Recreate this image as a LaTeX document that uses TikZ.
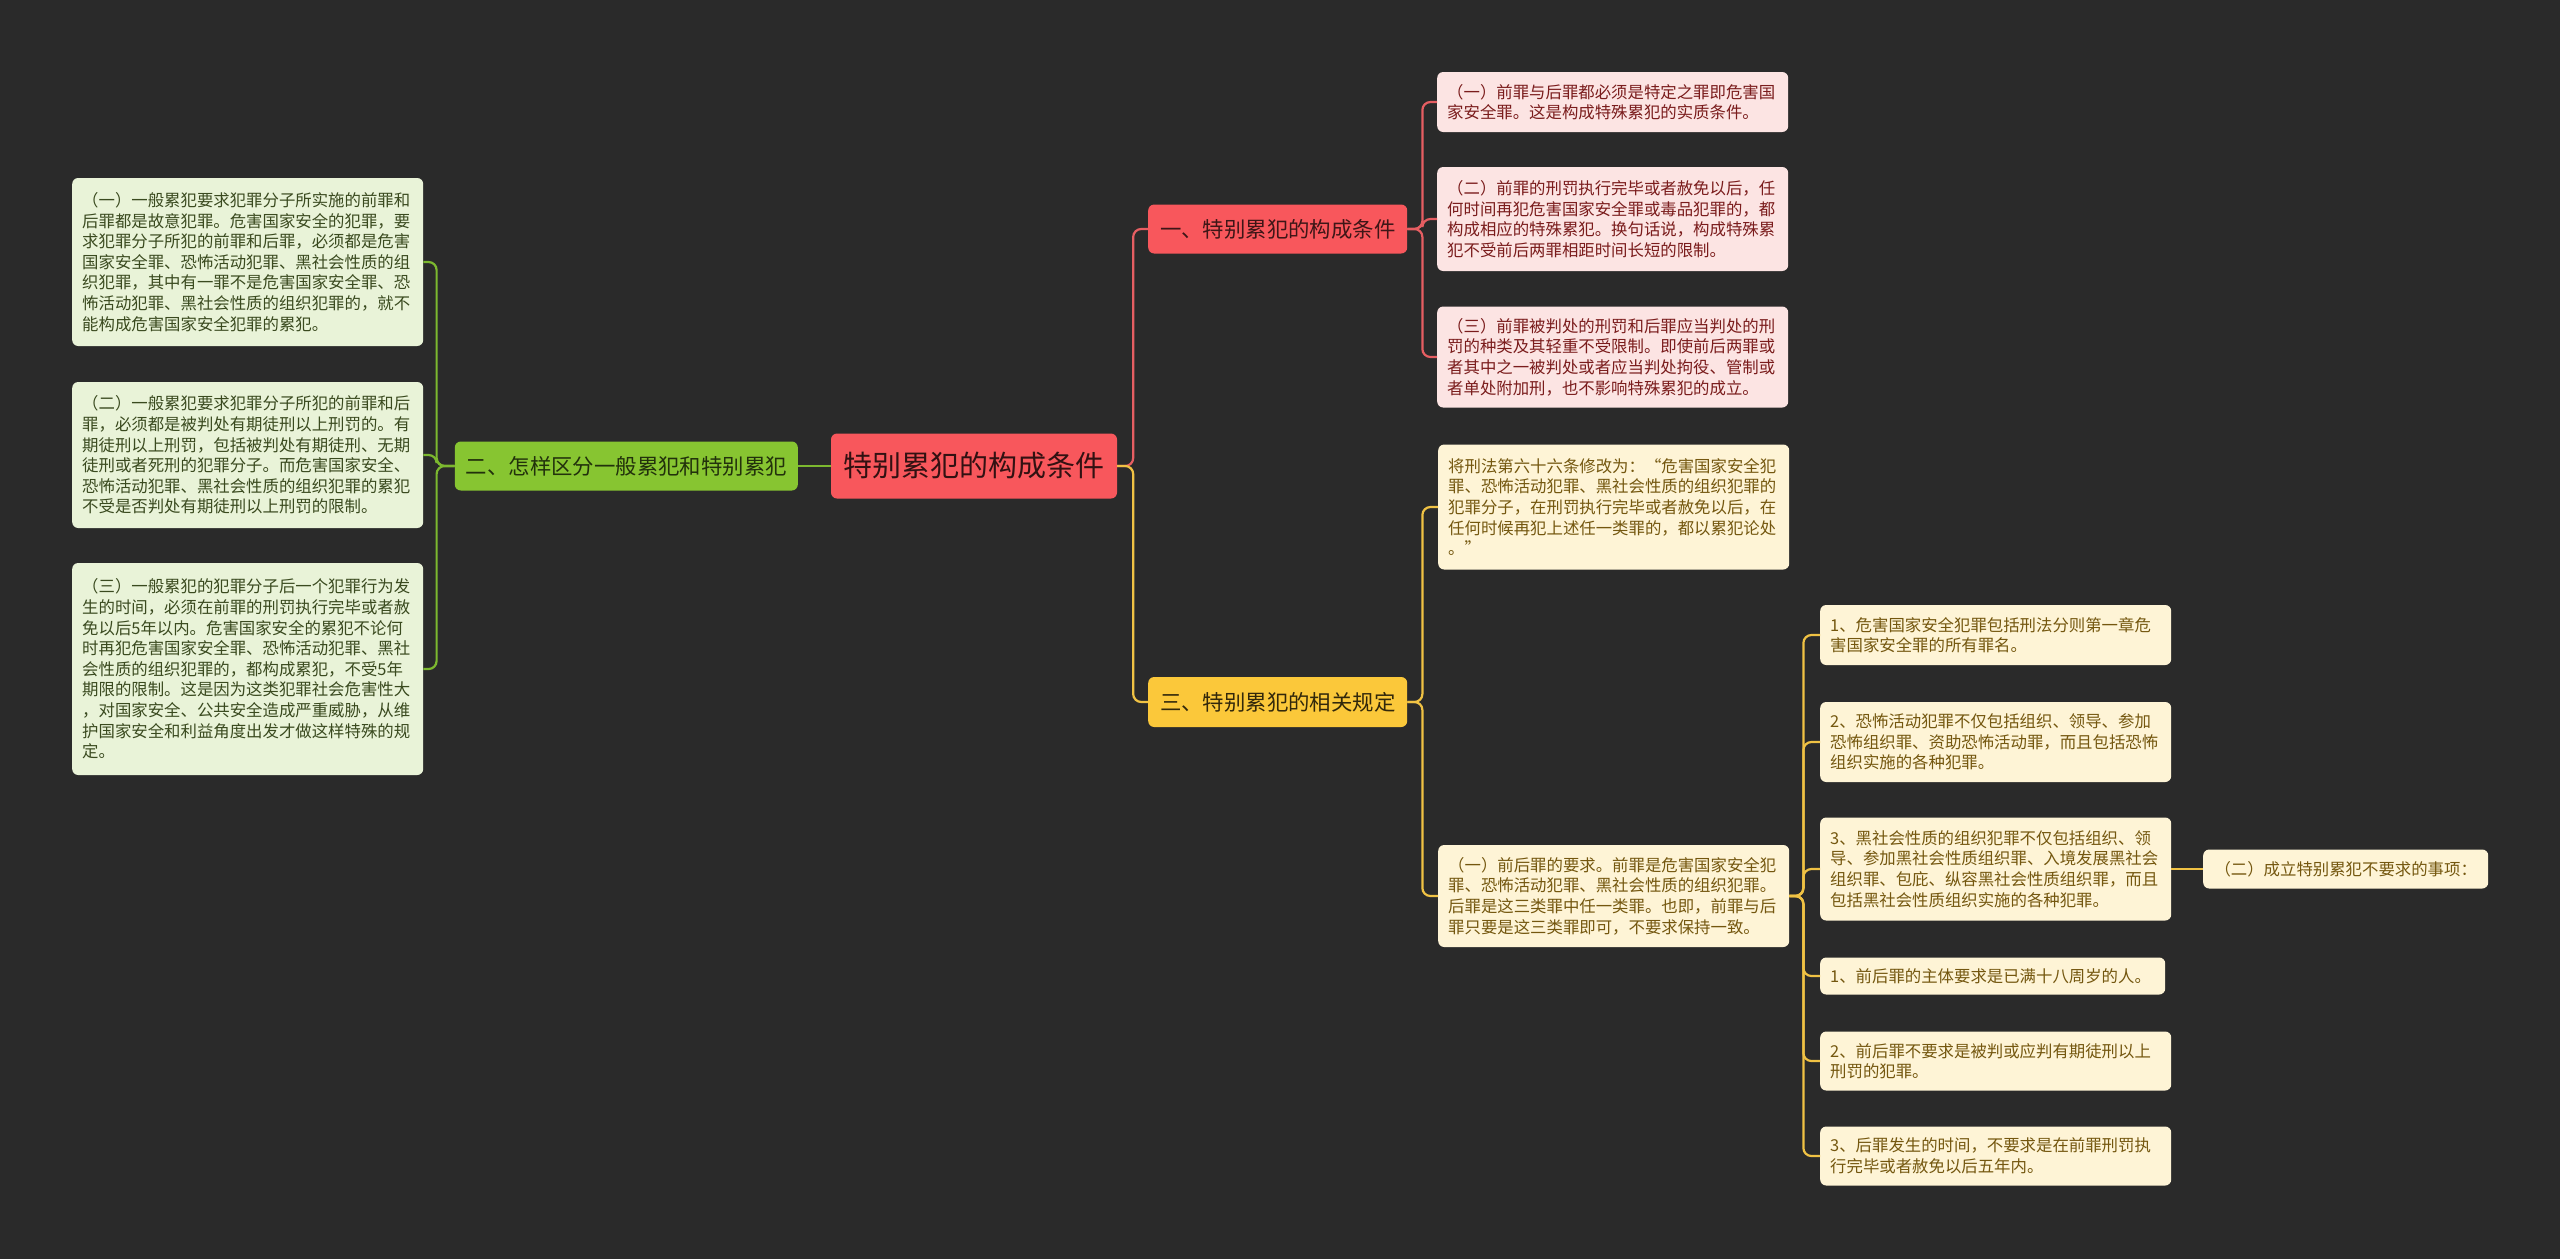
\documentclass[tikz,border=0pt]{standalone}
\usepackage{fontspec}
\newfontfamily\cjk{Noto Sans CJK SC}
\usetikzlibrary{positioning,calc}

\definecolor{bgdark}{HTML}{2A2A2A}
\definecolor{topred}{HTML}{F8575C}
\definecolor{linered}{HTML}{E65E62}
\definecolor{leafred}{HTML}{FCE4E3}
\definecolor{inkred}{HTML}{7A1C1C}
\definecolor{topgreen}{HTML}{87C531}
\definecolor{linegreen}{HTML}{7CB82F}
\definecolor{leafgreen}{HTML}{E9F3D8}
\definecolor{inkgreen}{HTML}{3A4A1F}
\definecolor{topyellow}{HTML}{FBC83A}
\definecolor{lineyellow}{HTML}{F0C244}
\definecolor{leafyellow}{HTML}{FEF4D6}
\definecolor{inkyellow}{HTML}{74570F}

\tikzset{
  leaf/.style={anchor=west, rounded corners=6pt, text width=331pt,
    inner xsep=10pt, inner ysep=0pt, align=left,
    font=\cjk\fontsize{16.4}{20.6}\selectfont},
  gleaf/.style={leaf, fill=leafgreen, text=inkgreen},
  rleaf/.style={leaf, fill=leafred, text=inkred},
  yleaf/.style={leaf, fill=leafyellow, text=inkyellow},
  branch/.style={anchor=west, rounded corners=6pt, minimum width=259pt,
    minimum height=49pt, inner sep=0pt, font=\cjk\fontsize{21.4}{24}\selectfont},
  link/.style={line width=2.2pt, rounded corners=8pt},
}

\begin{document}
\begin{tikzpicture}[x=1pt, y=-1pt]
  % background
  \fill[bgdark] (0,0) rectangle (2560,1259);

  % root and main branches
  \node[fill=topred, text=black!80!topred, rounded corners=6pt, minimum width=286pt,
    minimum height=65pt, inner sep=0pt, font=\cjk\fontsize{29}{32}\selectfont]
    (root) at (974,466) {特别累犯的构成条件};
  \node[branch, fill=topred, text=black!75!topred] (b1) at (1148,229) {一、特别累犯的构成条件};
  \node[branch, fill=topyellow, text=black!80!topyellow, minimum height=50pt] (b3) at (1148,702) {三、特别累犯的相关规定};
  \node[branch, fill=topgreen, text=black!75!topgreen, minimum width=343pt, anchor=east]
    (b2) at (798,466) {二、怎样区分一般累犯和特别累犯};

  % left leaves
  \node[gleaf, minimum height=168pt] (L1) at (72,262) {（一）一般累犯要求犯罪分子所实施的前罪和\\
后罪都是故意犯罪。危害国家安全的犯罪，要\\
求犯罪分子所犯的前罪和后罪，必须都是危害\\
国家安全罪、恐怖活动犯罪、黑社会性质的组\\
织犯罪，其中有一罪不是危害国家安全罪、恐\\
怖活动犯罪、黑社会性质的组织犯罪的，就不\\
能构成危害国家安全犯罪的累犯。};
  \node[gleaf, minimum height=146pt] (L2) at (72,455) {（二）一般累犯要求犯罪分子所犯的前罪和后\\
罪，必须都是被判处有期徒刑以上刑罚的。有\\
期徒刑以上刑罚，包括被判处有期徒刑、无期\\
徒刑或者死刑的犯罪分子。而危害国家安全、\\
恐怖活动犯罪、黑社会性质的组织犯罪的累犯\\
不受是否判处有期徒刑以上刑罚的限制。};
  \node[gleaf, minimum height=212pt] (L3) at (72,669) {（三）一般累犯的犯罪分子后一个犯罪行为发\\
生的时间，必须在前罪的刑罚执行完毕或者赦\\
免以后5年以内。危害国家安全的累犯不论何\\
时再犯危害国家安全罪、恐怖活动犯罪、黑社\\
会性质的组织犯罪的，都构成累犯，不受5年\\
期限的限制。这是因为这类犯罪社会危害性大\\
，对国家安全、公共安全造成严重威胁，从维\\
护国家安全和利益角度出发才做这样特殊的规\\
定。};

  % red leaves
  \node[rleaf, minimum height=60pt] (R1) at (1437,102) {（一）前罪与后罪都必须是特定之罪即危害国\\
家安全罪。这是构成特殊累犯的实质条件。};
  \node[rleaf, minimum height=104pt] (R2) at (1437,219) {（二）前罪的刑罚执行完毕或者赦免以后，任\\
何时间再犯危害国家安全罪或毒品犯罪的，都\\
构成相应的特殊累犯。换句话说，构成特殊累\\
犯不受前后两罪相距时间长短的限制。};
  \node[rleaf, minimum height=101pt] (R3) at (1437,357) {（三）前罪被判处的刑罚和后罪应当判处的刑\\
罚的种类及其轻重不受限制。即使前后两罪或\\
者其中之一被判处或者应当判处拘役、管制或\\
者单处附加刑，也不影响特殊累犯的成立。};

  % yellow leaves
  \node[yleaf, minimum height=125pt] (Y1) at (1438,507) {将刑法第六十六条修改为：“危害国家安全犯\\
罪、恐怖活动犯罪、黑社会性质的组织犯罪的\\
犯罪分子，在刑罚执行完毕或者赦免以后，在\\
任何时候再犯上述任一类罪的，都以累犯论处\\
。”};
  \node[yleaf, minimum height=102pt] (Y2) at (1438,896) {（一）前后罪的要求。前罪是危害国家安全犯\\
罪、恐怖活动犯罪、黑社会性质的组织犯罪。\\
后罪是这三类罪中任一类罪。也即，前罪与后\\
罪只要是这三类罪即可，不要求保持一致。};

  % items under Y2
  \node[yleaf, minimum height=60pt] (C1) at (1820,635) {1、危害国家安全犯罪包括刑法分则第一章危\\
害国家安全罪的所有罪名。};
  \node[yleaf, minimum height=80pt] (C2) at (1820,742) {2、恐怖活动犯罪不仅包括组织、领导、参加\\
恐怖组织罪、资助恐怖活动罪，而且包括恐怖\\
组织实施的各种犯罪。};
  \node[yleaf, minimum height=103pt] (C3) at (1820,869) {3、黑社会性质的组织犯罪不仅包括组织、领\\
导、参加黑社会性质组织罪、入境发展黑社会\\
组织罪、包庇、纵容黑社会性质组织罪，而且\\
包括黑社会性质组织实施的各种犯罪。};
  \node[yleaf, minimum height=37pt, text width=325pt] (C4) at (1820,976) {1、前后罪的主体要求是已满十八周岁的人。};
  \node[yleaf, minimum height=59pt] (C5) at (1820,1061) {2、前后罪不要求是被判或应判有期徒刑以上\\
刑罚的犯罪。};
  \node[yleaf, minimum height=59pt] (C6) at (1820,1156) {3、后罪发生的时间，不要求是在前罪刑罚执\\
行完毕或者赦免以后五年内。};
  \node[yleaf, minimum height=39pt, text width=265pt, align=center] (D) at (2203,869)
    {（二）成立特别累犯不要求的事项：};

  % connectors
  \draw[link, linegreen] (b2.east) -- (root.west);
  \draw[link, linered] (root.east) -- ++(16,0) |- (b1.west);
  \draw[link, lineyellow] (root.east) -- ++(16,0) |- (b3.west);
  \foreach \n in {L1,L2,L3}
    \draw[link, linegreen] (b2.west) -- ++(-18,0) |- (\n.east);
  \foreach \n in {R1,R2,R3}
    \draw[link, linered] (b1.east) -- ++(15,0) |- (\n.west);
  \foreach \n in {Y1,Y2}
    \draw[link, lineyellow] (b3.east) -- ++(15,0) |- (\n.west);
  \foreach \n in {C1,C2,C3,C4,C5,C6}
    \draw[link, lineyellow] (Y2.east) -- ++(14,0) |- (\n.west);
  \draw[link, lineyellow] (C3.east) -- (D.west);
\end{tikzpicture}
\end{document}
